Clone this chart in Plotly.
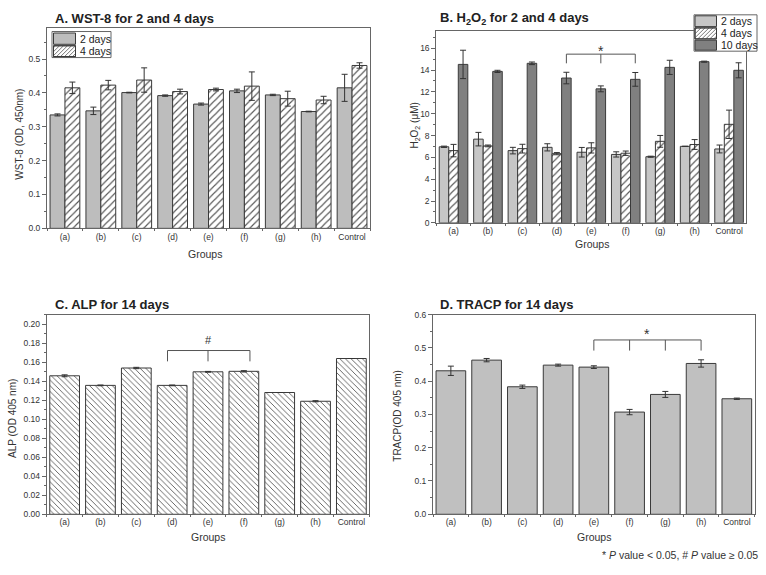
import plotly.graph_objects as go

W, H = 766, 575

groups = ["(a)", "(b)", "(c)", "(d)", "(e)", "(f)", "(g)", "(h)", "Control"]

# A. WST-8
wst8_2d = [0.335, 0.347, 0.401, 0.392, 0.367, 0.406, 0.394, 0.345, 0.415]
wst8_2d_err = [0.003, 0.011, 0.001, 0.002, 0.003, 0.005, 0.002, 0.001, 0.040]
wst8_4d = [0.415, 0.423, 0.438, 0.404, 0.410, 0.420, 0.383, 0.379, 0.481]
wst8_4d_err = [0.017, 0.014, 0.036, 0.007, 0.004, 0.042, 0.022, 0.011, 0.008]

# B. H2O2
h2o2_2d = [6.97, 7.67, 6.62, 6.92, 6.47, 6.27, 6.06, 7.01, 6.77]
h2o2_2d_err = [0.06, 0.62, 0.30, 0.33, 0.44, 0.24, 0.05, 0.0, 0.36]
h2o2_4d = [6.62, 7.05, 6.80, 6.34, 6.87, 6.38, 7.47, 7.18, 9.03]
h2o2_4d_err = [0.57, 0.08, 0.40, 0.10, 0.47, 0.20, 0.54, 0.45, 1.30]
h2o2_10d = [14.52, 13.88, 14.62, 13.27, 12.28, 13.15, 14.25, 14.77, 13.98]
h2o2_10d_err = [1.30, 0.10, 0.12, 0.53, 0.27, 0.63, 0.65, 0.05, 0.69]

# C. ALP
alp = [0.1458, 0.1357, 0.1540, 0.1357, 0.1500, 0.1505, 0.1282, 0.1190, 0.1640]
alp_err = [0.0010, 0.0004, 0.0007, 0.0004, 0.0004, 0.0007, 0.0, 0.0006, 0.0]

# D. TRACP
tracp = [0.431, 0.463, 0.383, 0.448, 0.442, 0.307, 0.360, 0.453, 0.347]
tracp_err = [0.014, 0.005, 0.005, 0.003, 0.004, 0.008, 0.009, 0.011, 0.002]

legend_a = ["2 days", "4 days"]
legend_b = ["2 days", "4 days", "10 days"]

FONT = "Liberation Sans, Arial, sans-serif"
EDGE = "#3a3a3a"
BARGAP = 0.17
GREY_A = "#bdbdbd"
GREY_B = "#c6c6c6"
DARK_B = "#808080"
GREY_D = "#c0c0c0"
HATCH = "#555"


def fx(px):
    return px / W


def fy(py):
    return 1 - py / H


def err(arr):
    return dict(type="data", array=arr, visible=True, color="#333", thickness=1, width=3)


def hatched(shape, size):
    return dict(color="white", line=dict(color=EDGE, width=1),
                pattern=dict(shape=shape, fgcolor=HATCH, bgcolor="white",
                             size=size, solidity=0.22, fillmode="replace"))


fig = go.Figure()

# ---- Panel A
fig.add_trace(go.Bar(x=groups, y=wst8_2d, error_y=err(wst8_2d_err), name=legend_a[0],
                     marker=dict(color=GREY_A, line=dict(color=EDGE, width=1)),
                     xaxis="x", yaxis="y", offsetgroup="a1"))
fig.add_trace(go.Bar(x=groups, y=wst8_4d, error_y=err(wst8_4d_err), name=legend_a[1],
                     marker=hatched("/", 5), xaxis="x", yaxis="y", offsetgroup="a2"))

# ---- Panel B
fig.add_trace(go.Bar(x=groups, y=h2o2_2d, error_y=err(h2o2_2d_err), name=legend_b[0],
                     marker=dict(color=GREY_B, line=dict(color=EDGE, width=1)),
                     xaxis="x2", yaxis="y2", offsetgroup="b1"))
fig.add_trace(go.Bar(x=groups, y=h2o2_4d, error_y=err(h2o2_4d_err), name=legend_b[1],
                     marker=hatched("/", 5), xaxis="x2", yaxis="y2", offsetgroup="b2"))
fig.add_trace(go.Bar(x=groups, y=h2o2_10d, error_y=err(h2o2_10d_err), name=legend_b[2],
                     marker=dict(color=DARK_B, line=dict(color=EDGE, width=1)),
                     xaxis="x2", yaxis="y2", offsetgroup="b3"))

# ---- Panel C
fig.add_trace(go.Bar(x=groups, y=alp, error_y=err(alp_err), name="ALP",
                     marker=hatched("\\", 4), xaxis="x3", yaxis="y3"))

# ---- Panel D
fig.add_trace(go.Bar(x=groups, y=tracp, error_y=err(tracp_err), name="TRACP",
                     marker=dict(color=GREY_D, line=dict(color=EDGE, width=1)),
                     xaxis="x4", yaxis="y4"))

fig.update_traces(showlegend=False)

# axes
panels = {
    "A": dict(x=(47, 370), y=(23.3, 227.3), rng=[0, 0.592], dtick=0.1, minor=0.05, fmt=".1f"),
    "B": dict(x=(436.3, 746.3), y=(26.7, 221.7), rng=[0, 17.56], dtick=2, minor=1, fmt="d"),
    "C": dict(x=(46.7, 369.3), y=(315, 518.3), rng=[0, 0.2103], dtick=0.02, minor=0.01, fmt=".2f"),
    "D": dict(x=(433, 754.7), y=(315, 518.3), rng=[0, 0.6], dtick=0.1, minor=0.05, fmt=".1f"),
}
tickfont = dict(family=FONT, size=8.5, color="#333")
for i, key in enumerate(["A", "B", "C", "D"], start=1):
    p = panels[key]
    sx = "" if i == 1 else str(i)
    fig.update_layout(**{
        f"xaxis{sx}": dict(domain=[fx(p["x"][0]), fx(p["x"][1])], anchor=f"y{sx}",
                          type="category", showline=True, mirror=True, linecolor="#666",
                          linewidth=1, showgrid=False, zeroline=False, ticks="outside",
                          ticklen=2, tickcolor="#666", tickson="boundaries", tickangle=0,
                          tickfont=tickfont, fixedrange=True),
        f"yaxis{sx}": dict(domain=[fy(p["y"][1]), fy(p["y"][0])], anchor=f"x{sx}",
                          range=p["rng"], dtick=p["dtick"], tick0=0, tickformat=p["fmt"],
                          showline=True, mirror=True, linecolor="#666", linewidth=1,
                          showgrid=False, zeroline=False, ticks="outside", ticklen=4,
                          tickcolor="#666", tickfont=tickfont,
                          minor=dict(ticks="outside", ticklen=2, dtick=p["minor"],
                                     tick0=0, tickcolor="#666", showgrid=False)),
    })

annotations = []
shapes = []


def text_ann(px, py, text, size, xanchor="center", angle=0, bold=False, color="#333"):
    if bold:
        text = f"<b>{text}</b>"
    annotations.append(dict(x=fx(px), y=fy(py), xref="paper", yref="paper", text=text,
                            showarrow=False, xanchor=xanchor, yanchor="middle",
                            textangle=angle, font=dict(family=FONT, size=size, color=color)))


# titles
text_ann(53, 14, "A. WST-8 for 2 and 4 days", 13, "left", bold=True, color="#222")
text_ann(438, 14, "B. H<sub>2</sub>O<sub>2</sub> for 2 and 4 days", 13, "left", bold=True, color="#222")
text_ann(53, 305, "C. ALP for 14 days", 13, "left", bold=True, color="#222")
text_ann(438, 305, "D. TRACP for 14 days", 13, "left", bold=True, color="#222")

# y titles
text_ann(20, 132, "WST-8 (OD, 450nm)", 10, angle=-90)
text_ann(414.7, 123, "H<sub>2</sub>O<sub>2</sub> (μM)", 10, angle=-90)
text_ann(12.3, 421, "ALP (OD 405 nm)", 10, angle=-90)
text_ann(398, 418, "TRACP(OD 405 nm)", 10, angle=-90)

# x titles
text_ann(204.7, 253.3, "Groups", 10.5)
text_ann(591.8, 243.3, "Groups", 10.5)
text_ann(208.2, 541.7, "Groups", 10.5)
text_ann(594, 541.7, "Groups", 10.5)

# footnote
text_ann(760, 560, "* <i>P</i> value &lt; 0.05, # <i>P</i> value ≥ 0.05", 10.5, "right")

# significance brackets
line_style = dict(color="#555", width=1)


def bracket(xr, yr, xs, y_top, y_bot, label, label_y, size):
    shapes.append(dict(type="line", xref=xr, yref=yr, x0=xs[0], x1=xs[-1], y0=y_top, y1=y_top, line=line_style))
    for xv in xs:
        shapes.append(dict(type="line", xref=xr, yref=yr, x0=xv, x1=xv, y0=y_top, y1=y_bot, line=line_style))
    annotations.append(dict(x=(xs[0] + xs[-1]) / 2, y=label_y, xref=xr, yref=yr, text=label,
                            showarrow=False, xanchor="center", yanchor="middle",
                            font=dict(family=FONT, size=size, color="#333")))


bw = (1 - BARGAP) / 3
iB = [groups.index(g) + bw for g in ["(d)", "(e)", "(f)"]]
bracket("x2", "y2", iB, 15.46, 14.62, "*", 15.75, 14)

iC = [groups.index("(d)") - 0.13, groups.index("(e)"), groups.index("(f)") + 0.17]
bracket("x3", "y3", iC, 0.1724, 0.161, "#", 0.1830, 11)

iD = [groups.index(g) for g in ["(e)", "(f)", "(g)", "(h)"]]
bracket("x4", "y4", iD, 0.5236, 0.4917, "*", 0.542, 14)


# ---- manual legends (compact boxes as in the reference)
def rect_px(x0, y0, x1, y1, fill, line_color, width=1):
    shapes.append(dict(type="rect", xref="paper", yref="paper",
                       x0=fx(x0), x1=fx(x1), y0=fy(y1), y1=fy(y0),
                       fillcolor=fill, line=dict(color=line_color, width=width), layer="above"))


def hatch_px(x0, y0, x1, y1, spacing):
    segs = []
    k = x0 + y0 + spacing / 2
    while k < x1 + y1:
        pa = max(x0, k - y1)
        pb = min(x1, k - y0)
        if pb > pa:
            segs.append(f"M{fx(pa):.5f},{fy(k - pa):.5f}L{fx(pb):.5f},{fy(k - pb):.5f}")
        k += spacing
    shapes.append(dict(type="path", xref="paper", yref="paper", path="".join(segs),
                       line=dict(color=HATCH, width=0.8), layer="above"))


def legend_box(box, rows, sw_x, text_x, size):
    rect_px(*box, "white", "#666")
    for (label, style, y0, y1) in rows:
        if style == "hatch":
            rect_px(sw_x[0], y0, sw_x[1], y1, "white", EDGE)
            hatch_px(sw_x[0], y0, sw_x[1], y1, 4)
            rect_px(sw_x[0], y0, sw_x[1], y1, "rgba(0,0,0,0)", EDGE)
        else:
            rect_px(sw_x[0], y0, sw_x[1], y1, style, EDGE)
        annotations.append(dict(x=fx(text_x), y=fy((y0 + y1) / 2), xref="paper", yref="paper",
                                text=label, showarrow=False, xanchor="left", yanchor="middle",
                                font=dict(family=FONT, size=size, color="#222")))


legend_box((52, 27, 111, 53.5),
           [(legend_a[0], GREY_A, 28.5, 40), (legend_a[1], "hatch", 41.5, 52.5)],
           (53.5, 75.5), 78, 10.5)
legend_box((694, 10, 757, 47),
           [(legend_b[0], GREY_B, 11, 22), (legend_b[1], "hatch", 23.3, 34.5),
            (legend_b[2], DARK_B, 35.8, 46)],
           (695, 716.5), 719, 10.5)

fig.update_layout(
    width=W, height=H, margin=dict(l=0, r=0, t=0, b=0),
    paper_bgcolor="white", plot_bgcolor="white",
    barmode="group", bargap=BARGAP, bargroupgap=0,
    font=dict(family=FONT, color="#333"),
    annotations=annotations, shapes=shapes, showlegend=False,
)

fig.write_html("out.html")
